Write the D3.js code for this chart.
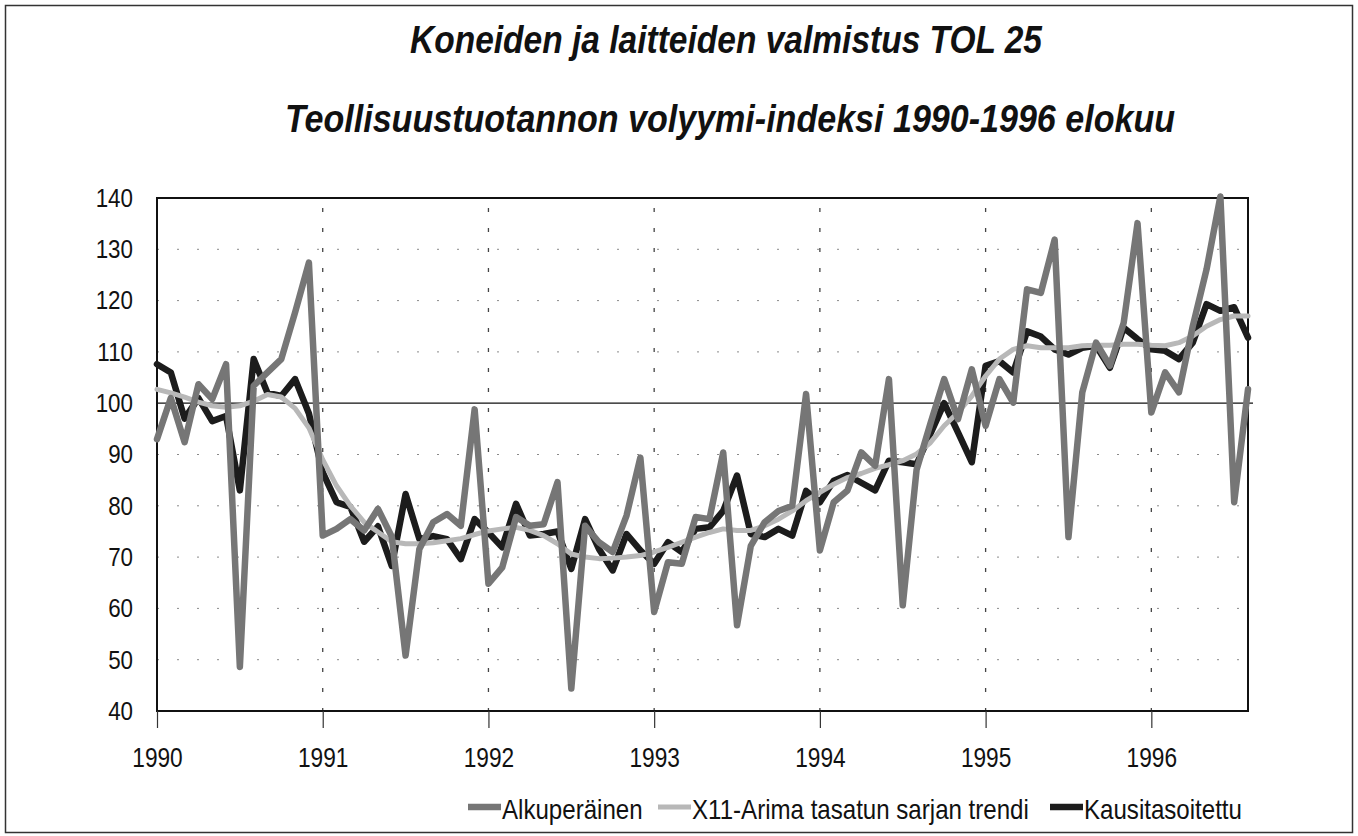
<!DOCTYPE html>
<html>
<head>
<meta charset="utf-8">
<script src="https://cdn.jsdelivr.net/npm/d3@7"></script>
<style>
    body { margin: 0; background: #fff; }
    svg { display: block; font-family: 'Liberation Sans', Arial, sans-serif; }
    .tick-label { fill: #111; }
</style>
</head>
<body>
<div id="chart"></div>
<script>
// x-axis labels, one per January
const years = ['1990', '1991', '1992', '1993', '1994', '1995', '1996'];
const yTicks = [40, 50, 60, 70, 80, 90, 100, 110, 120, 130, 140];
const seriesNames = ['Alkuperäinen', 'X11-Arima tasatun sarjan trendi', 'Kausitasoitettu'];

// monthly values, 1990 January .. 1996 August
const alkuperainen = [
    93, 101, 92.4, 103.7, 100.8, 107.6, 48.6, 103.4, 106, 108.6, 117.7, 127.4,
    74.2, 75.5, 77.4, 75.2, 79.4, 74, 50.8, 71.6, 76.8, 78.4, 76.1, 98.8,
    64.8, 68, 77.8, 76.1, 76.4, 84.6, 44.4, 76.1, 72.9, 71, 78.1, 89.4,
    59.3, 69, 68.7, 77.8, 77.4, 90.4, 56.7, 72.2, 76.8, 79, 80, 101.8,
    71.3, 80.7, 83, 90.4, 87.8, 104.7, 60.6, 87, 96, 104.7, 96.9, 106.6,
    95.6, 104.7, 100.1, 122.2, 121.5, 131.9, 73.9, 102.1, 111.8, 107.3, 115.7, 135.1,
    98.2, 106, 102.1, 115, 126.1, 140.3, 80.7, 102.7
];
const trendi = [
    102.7, 102, 101.2, 100.2, 99.5, 99.2, 99.5, 100.4, 101.7, 101.2, 99, 95.2,
    89, 83.9, 80, 76.8, 74.9, 73, 72.6, 72.6, 72.8, 73.2, 73.6, 74.4,
    75.1, 75.5, 75.8, 75.2, 74.2, 72.6, 70.6, 70, 69.7, 69.8, 70, 70.3,
    71, 71.9, 72.9, 73.9, 74.8, 75.5, 75.2, 75.2, 76.1, 77.4, 79, 81,
    82.6, 84.2, 85.5, 86.3, 87.3, 88, 88.8, 90.1, 92.3, 95.6, 98.2, 101.4,
    105.3, 108.6, 110.5, 111.2, 110.8, 110.8, 110.8, 111.2, 111.3, 111.3, 111.5, 111.5,
    111.3, 111.2, 111.8, 113.1, 115, 116.3, 117, 117
];
const kausitasoitettu = [
    107.6, 106, 97, 101, 96.5, 97.5, 83, 108.6, 102, 101.4, 104.7, 98,
    86.5, 80.7, 79.8, 73, 76, 68.3, 82.3, 73.5, 74.1, 73.5, 69.6, 77.4,
    74.8, 71.9, 80.4, 74.2, 74.5, 75, 67.7, 77.4, 71.6, 67.4, 74.5, 71.3,
    68.7, 72.9, 71, 75.5, 75.8, 79, 85.9, 74.5, 73.9, 75.5, 74.2, 82.9,
    80.7, 84.9, 86, 84.5, 83, 88.8, 88.5, 88.1, 94, 100, 94.3, 88.5,
    107.3, 108.2, 106, 114, 113, 110.5, 109.5, 110.8, 111.2, 106.9, 114.7, 112.5,
    110.5, 110.2, 108.6, 111.8, 119.3, 118, 118.7, 112.8
];

// squeeze text horizontally, the scanned original uses a narrow face
function squeeze(sel, k) {
    sel.each(function() {
        const w = this.getComputedTextLength();
        d3.select(this)
            .attr('textLength', w * k)
            .attr('lengthAdjust', 'spacingAndGlyphs');
    });
}

class LineChart {
    constructor(_config) {
        this.config = {
            parentElement: _config.parentElement,
            containerWidth: _config.containerWidth || 1358,
            containerHeight: _config.containerHeight || 836,
            margin: _config.margin || { top: 198, right: 110, bottom: 125, left: 157 }
        };
        this.series = [
            { name: seriesNames[2], values: kausitasoitettu, color: '#1c1c1c', width: 6.5 },
            { name: seriesNames[1], values: trendi, color: '#b8b8b8', width: 5 },
            { name: seriesNames[0], values: alkuperainen, color: '#767676', width: 6.5 }
        ];
        this.initVis();
    }

    initVis() {
        let vis = this;
        const m = vis.config.margin;
        vis.width = vis.config.containerWidth - m.left - m.right;
        vis.height = vis.config.containerHeight - m.top - m.bottom;

        vis.svg = d3.select(vis.config.parentElement)
            .append('svg')
            .attr('width', vis.config.containerWidth)
            .attr('height', vis.config.containerHeight);

        // outer frame
        vis.svg.append('rect')
            .attr('x', 5.5).attr('y', 5.5)
            .attr('width', 1347).attr('height', 827)
            .attr('fill', 'none')
            .attr('stroke', '#333')
            .attr('stroke-width', 1.5);

        vis.chart = vis.svg.append('g')
            .attr('transform', `translate(${m.left},${m.top})`);

        vis.xScale = d3.scaleLinear()
            .domain([0, alkuperainen.length - 1])
            .range([0, vis.width]);

        vis.yScale = d3.scaleLinear()
            .domain([d3.min(yTicks), d3.max(yTicks)])
            .range([vis.height, 0]);

        vis.svg.append('text')
            .attr('x', 726).attr('y', 53)
            .attr('text-anchor', 'middle')
            .style('font-size', '38px').style('font-weight', 'bold').style('font-style', 'italic')
            .attr('fill', '#111')
            .text('Koneiden ja laitteiden valmistus TOL 25')
            .attr('textLength', 632).attr('lengthAdjust', 'spacingAndGlyphs');

        vis.svg.append('text')
            .attr('x', 730).attr('y', 132)
            .attr('text-anchor', 'middle')
            .style('font-size', '38px').style('font-weight', 'bold').style('font-style', 'italic')
            .attr('fill', '#111')
            .text('Teollisuustuotannon volyymi-indeksi 1990-1996 elokuu')
            .attr('textLength', 890).attr('lengthAdjust', 'spacingAndGlyphs');
    }

    renderVis() {
        let vis = this;
        const yearIdx = years.map((d, i) => i * 12);

        // horizontal dotted gridlines
        vis.chart.append('g')
            .selectAll('line')
            .data(yTicks.filter(d => d !== 100 && d !== 40 && d !== 140))
            .join('line')
            .attr('x1', 0).attr('x2', vis.width)
            .attr('y1', d => vis.yScale(d)).attr('y2', d => vis.yScale(d))
            .attr('stroke', '#8a8a8a')
            .attr('stroke-width', 1)
            .attr('stroke-dasharray', '2,18');

        // vertical dashed year lines
        vis.chart.append('g')
            .selectAll('line')
            .data(yearIdx.slice(1))
            .join('line')
            .attr('x1', d => vis.xScale(d)).attr('x2', d => vis.xScale(d))
            .attr('y1', 10).attr('y2', vis.height)
            .attr('stroke', '#444')
            .attr('stroke-width', 1.3)
            .attr('stroke-dasharray', '4,16');

        // reference line at 100
        vis.chart.append('line')
            .attr('x1', 0).attr('x2', vis.width + 5)
            .attr('y1', vis.yScale(100)).attr('y2', vis.yScale(100))
            .attr('stroke', '#111')
            .attr('stroke-width', 1.3);

        // plot border
        vis.chart.append('rect')
            .attr('width', vis.width).attr('height', vis.height)
            .attr('fill', 'none')
            .attr('stroke', '#111')
            .attr('stroke-width', 2);

        // axes
        const xAxis = d3.axisBottom(vis.xScale)
            .tickValues(yearIdx)
            .tickSize(17)
            .tickPadding(20)
            .tickFormat((d, i) => years[i]);

        const yAxis = d3.axisLeft(vis.yScale)
            .tickValues(yTicks)
            .tickSize(0)
            .tickPadding(24);

        const xAxisG = vis.chart.append('g')
            .attr('transform', `translate(0,${vis.height})`)
            .call(xAxis)
            .call(g => g.select('.domain').remove());
        xAxisG.selectAll('.tick line').attr('stroke', '#333').attr('stroke-width', 1.2);
        xAxisG.selectAll('.tick text')
            .attr('class', 'tick-label')
            .style('font-size', '27px')
            .attr('dy', '0.71em');

        const yAxisG = vis.chart.append('g')
            .call(yAxis)
            .call(g => g.select('.domain').remove());
        yAxisG.selectAll('.tick text')
            .attr('class', 'tick-label')
            .style('font-size', '26px');

        squeeze(xAxisG.selectAll('.tick text'), 0.84);
        squeeze(yAxisG.selectAll('.tick text'), 0.86);

        // series lines
        const line = d3.line()
            .x((d, i) => vis.xScale(i))
            .y(d => vis.yScale(d));

        vis.chart.append('g')
            .selectAll('path')
            .data(vis.series)
            .join('path')
            .attr('d', d => line(d.values))
            .attr('fill', 'none')
            .attr('stroke', d => d.color)
            .attr('stroke-width', d => d.width)
            .attr('stroke-linejoin', 'round')
            .attr('stroke-linecap', 'round');

        // legend
        const legendItems = [
            { name: seriesNames[0], color: '#767676', width: 6.5, x: 468 },
            { name: seriesNames[1], color: '#b8b8b8', width: 5, x: 658 },
            { name: seriesNames[2], color: '#1c1c1c', width: 6.5, x: 1050 }
        ];
        const legend = vis.svg.append('g')
            .selectAll('g')
            .data(legendItems)
            .join('g')
            .attr('transform', d => `translate(${d.x},807)`);

        legend.append('line')
            .attr('x1', 0).attr('x2', 33)
            .attr('stroke', d => d.color)
            .attr('stroke-width', d => d.width);

        const legendText = legend.append('text')
            .attr('x', 34).attr('y', 12)
            .attr('fill', '#111')
            .style('font-size', '28px')
            .text(d => d.name);
        squeeze(legendText, 0.86);
    }
}

const chart = new LineChart({ parentElement: '#chart' });
chart.renderVis();
</script>
</body>
</html>
